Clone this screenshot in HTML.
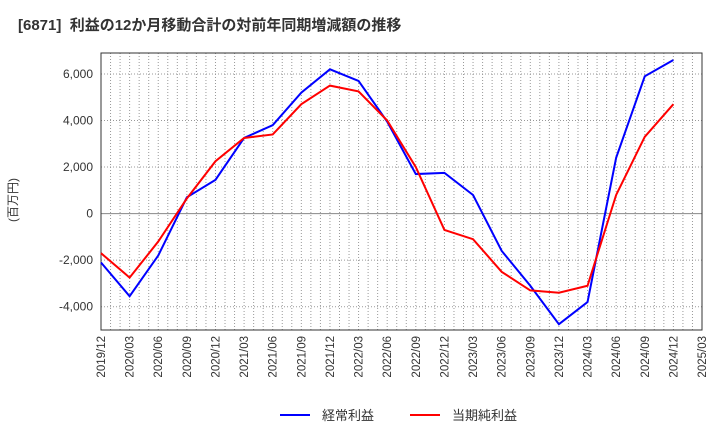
<!DOCTYPE html>
<html><head><meta charset="utf-8"><style>
body{margin:0;background:#fff;width:720px;height:440px;overflow:hidden}
text{font-family:"Liberation Sans","Noto Sans CJK JP",sans-serif}
</style></head><body>
<svg id="c" width="720" height="440">
<text x="18" y="30" font-size="15" font-weight="bold" fill="#333">[6871]&#160; 利益の12か月移動合計の対前年同期増減額の推移</text>
<g id="grid"></g><g id="axes"></g><g id="series"></g>
<text transform="translate(17,200) rotate(-90)" font-size="12" fill="#333" text-anchor="middle">(百万円)</text>
<g>
<line x1="280" y1="415" x2="310" y2="415" stroke="#0000ff" stroke-width="2"/>
<text x="322" y="420" font-size="13" fill="#333">経常利益</text>
<line x1="410" y1="415" x2="440" y2="415" stroke="#ff0000" stroke-width="2"/>
<text x="452" y="420" font-size="13" fill="#333">当期純利益</text>
</g>
</svg>
<script>
const categories=["2019/12","2020/03","2020/06","2020/09","2020/12","2021/03","2021/06","2021/09","2021/12","2022/03","2022/06","2022/09","2022/12","2023/03","2023/06","2023/09","2023/12","2024/03","2024/06","2024/09","2024/12","2025/03"];
const ordinaryProfit=[-2100,-3550,-1800,700,1450,3250,3800,5200,6200,5700,3950,1700,1750,800,-1600,-3100,-4750,-3800,2400,5900,6600];
const netProfit=[-1700,-2750,-1200,650,2250,3250,3400,4700,5500,5250,4000,2000,-700,-1100,-2500,-3300,-3400,-3100,800,3300,4700];
const yTicks=[6000,4000,2000,0,-2000,-4000];
const yMin=-5000,yMax=6900;
const L=101,R=702,T=53,B=330;
const NS="http://www.w3.org/2000/svg";
function x(i){return L+(R-L)*i/(categories.length-1);}
function y(v){return B-(v-yMin)/(yMax-yMin)*(B-T);}
function mk(tag,attrs,parent){const e=document.createElementNS(NS,tag);for(const k in attrs)e.setAttribute(k,attrs[k]);parent.appendChild(e);return e;}
const grid=document.getElementById('grid'),axes=document.getElementById('axes'),series=document.getElementById('series');
for(let m=1;m<(categories.length-1)*3;m++){
 const xx=L+(R-L)*m/((categories.length-1)*3);
 const g=mk('line',{x1:xx,x2:xx,y1:T,y2:B,stroke:'#999','stroke-dasharray':'1,2','stroke-width':1},grid);
 
 
}
yTicks.forEach(v=>{
 const g=mk('line',{x1:L,x2:R,y1:y(v),y2:y(v),stroke:v===0?'#888':'#999','stroke-dasharray':v===0?'':'1,2','stroke-width':1},grid);
 
 
 const t=mk('text',{x:L-8,y:y(v)+4,'text-anchor':'end','font-size':12,fill:'#333'},axes);
 t.textContent=v.toLocaleString('en-US');
 
 
});
categories.forEach((c,i)=>{
 const t=mk('text',{transform:`translate(${x(i)+4},${B+6}) rotate(-90)`,'text-anchor':'end','font-size':11.5,fill:'#333'},axes);
 t.textContent=c;
 
 
});
const fr=mk('rect',{x:L,y:T,width:R-L,height:B-T,fill:'none',stroke:'#333','stroke-width':1},axes);


function line(data,color,name){
 const p=mk('polyline',{points:data.map((v,i)=>x(i)+','+y(v)).join(' '),fill:'none',stroke:color,'stroke-width':2},series);
 
 
}
line(ordinaryProfit,'#0000ff','ordinary-profit-line');
line(netProfit,'#ff0000','net-profit-line');
</script>
</body></html>
